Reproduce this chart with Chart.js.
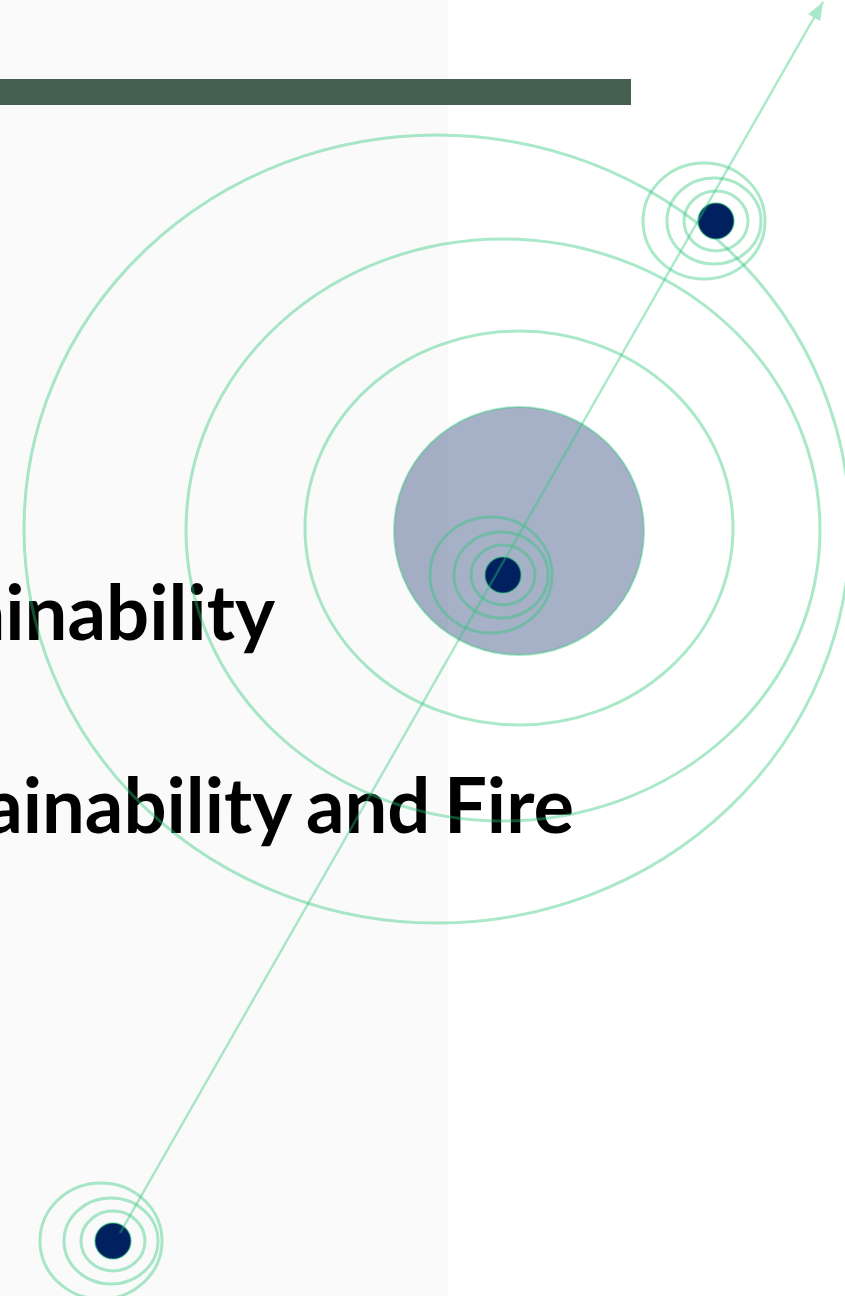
<!DOCTYPE html>
<html>
<head>
<meta charset="utf-8">
<title>Sustainability and Fire</title>
<script src="https://cdn.jsdelivr.net/npm/chart.js@4.4.1/dist/chart.umd.min.js"></script>
<style>
    html, body { margin: 0; padding: 0; background: #ffffff; }
    #moldura { width: 845px; height: 1296px; position: relative; }
</style>
</head>
<body>
<div id="moldura"><canvas id="grafico"></canvas></div>
<script>
/* Órbitas grandes em torno do núcleo (centro e raios em unidades do eixo) */
const orbitaX = [437, 503, 519];
const orbitaY = [529, 530, 528];
const orbitaRaioX = [413, 317, 214];
const orbitaRaioY = [394, 291, 197];

/* Núcleo preenchido */
const nucleoX = [519];
const nucleoY = [531];
const nucleoRaioX = [125];
const nucleoRaioY = [124];

/* Nós escuros */
const noX = [113, 503, 716];
const noY = [1241, 575, 221];

/* Ondas à volta de cada nó: desvio do centro e raios */
const ondaDesvioX = [0, -2, -12];
const ondaRaioX = [32, 47, 61];
const ondaRaioY = [30, 43, 58];

/* Seta que atravessa os nós */
const setaX = [120, 823];
const setaY = [1233, 2];

/* Títulos do diapositivo */
const titulos = ['Sustainability', 'Sustainability and Fire'];

const verde = 'rgba(40, 197, 117, 0.4)';
const verdeSolido = '#a8e8c8';
const azulNo = '#002060';

/* Desenha uma elipse a partir de valores do eixo */
function tracarElipse(ctx, escX, escY, cx, cy, rx, ry) {
    const px = escX.getPixelForValue(cx);
    const py = escY.getPixelForValue(cy);
    const prx = Math.abs(escX.getPixelForValue(cx + rx) - px);
    const pry = Math.abs(escY.getPixelForValue(cy + ry) - py);
    ctx.beginPath();
    ctx.ellipse(px, py, prx, pry, 0, 0, Math.PI * 2);
}

/* Fundo: painel claro, faixa verde e títulos */
const pluginFundo = {
    id: 'fundo',
    beforeDraw: function (chart) {
        const ctx = chart.ctx;
        const escX = chart.scales.x;
        const escY = chart.scales.y;
        ctx.save();
        ctx.fillStyle = '#ffffff';
        ctx.fillRect(0, 0, chart.width, chart.height);

        ctx.fillStyle = '#fafafa';
        ctx.fillRect(0, 0, escX.getPixelForValue(448), chart.height);

        ctx.fillStyle = '#466050';
        const topoFaixa = escY.getPixelForValue(79);
        ctx.fillRect(0, topoFaixa, escX.getPixelForValue(631), escY.getPixelForValue(105) - topoFaixa);

        ctx.fillStyle = '#000000';
        ctx.font = 'bold 76px Lato, "Open Sans", sans-serif';
        ctx.textAlign = 'right';
        ctx.textBaseline = 'alphabetic';
        ctx.fillText(titulos[0], escX.getPixelForValue(275), escY.getPixelForValue(640));
        ctx.wordSpacing = '-5px';
        ctx.fillText(titulos[1], escX.getPixelForValue(574), escY.getPixelForValue(833));
        ctx.restore();
    }
};

/* Órbitas, núcleo e ondas por baixo dos pontos */
const pluginOrbitas = {
    id: 'orbitas',
    beforeDatasetsDraw: function (chart) {
        const ctx = chart.ctx;
        const escX = chart.scales.x;
        const escY = chart.scales.y;
        ctx.save();
        ctx.strokeStyle = verde;
        ctx.lineWidth = 3;

        orbitaX.forEach(function (cx, i) {
            tracarElipse(ctx, escX, escY, cx, orbitaY[i], orbitaRaioX[i], orbitaRaioY[i]);
            ctx.stroke();
        });

        nucleoX.forEach(function (cx, i) {
            tracarElipse(ctx, escX, escY, cx, nucleoY[i], nucleoRaioX[i], nucleoRaioY[i]);
            ctx.fillStyle = 'rgba(0, 32, 96, 0.35)';
            ctx.fill();
            ctx.lineWidth = 2;
            ctx.stroke();
        });

        ctx.lineWidth = 3;
        noX.forEach(function (cx, i) {
            ondaRaioX.forEach(function (rx, j) {
                tracarElipse(ctx, escX, escY, cx + ondaDesvioX[j], noY[i], rx, ondaRaioY[j]);
                ctx.stroke();
            });
        });
        ctx.restore();
    }
};

/* Ponta da seta no fim da linha */
const pluginPontaSeta = {
    id: 'pontaSeta',
    afterDatasetsDraw: function (chart) {
        const pontos = chart.getDatasetMeta(0).data;
        if (pontos.length < 2) return;
        const a = pontos[pontos.length - 2];
        const b = pontos[pontos.length - 1];
        const ang = Math.atan2(b.y - a.y, b.x - a.x);
        const comp = 18;
        const meia = 7;
        const ctx = chart.ctx;
        ctx.save();
        ctx.translate(b.x, b.y);
        ctx.rotate(ang);
        ctx.beginPath();
        ctx.moveTo(0, 0);
        ctx.lineTo(-comp, -meia);
        ctx.lineTo(-comp, meia);
        ctx.closePath();
        ctx.fillStyle = verdeSolido;
        ctx.fill();
        ctx.restore();
    }
};

new Chart(document.getElementById('grafico'), {
    type: 'scatter',
    data: {
        datasets: [
            {
                type: 'line',
                label: 'Seta',
                data: setaX.map(function (x, i) { return { x: x, y: setaY[i] }; }),
                borderColor: verde,
                borderWidth: 2.5,
                pointRadius: 0,
                fill: false,
                clip: false,
                order: 0
            },
            {
                label: 'Nós',
                data: noX.map(function (x, i) { return { x: x, y: noY[i] }; }),
                pointRadius: 18,
                pointHoverRadius: 18,
                backgroundColor: azulNo,
                borderColor: 'rgba(40, 197, 117, 0.5)',
                borderWidth: 1.5,
                clip: false,
                order: 1
            }
        ]
    },
    options: {
        responsive: true,
        maintainAspectRatio: false,
        animation: false,
        events: [],
        layout: { padding: 0, autoPadding: false },
        plugins: {
            legend: { display: false },
            tooltip: { enabled: false }
        },
        scales: {
            x: { type: 'linear', min: 0, max: 845, display: false },
            y: { type: 'linear', min: 0, max: 1296, reverse: true, display: false }
        }
    },
    plugins: [pluginFundo, pluginOrbitas, pluginPontaSeta]
});
</script>
</body>
</html>
